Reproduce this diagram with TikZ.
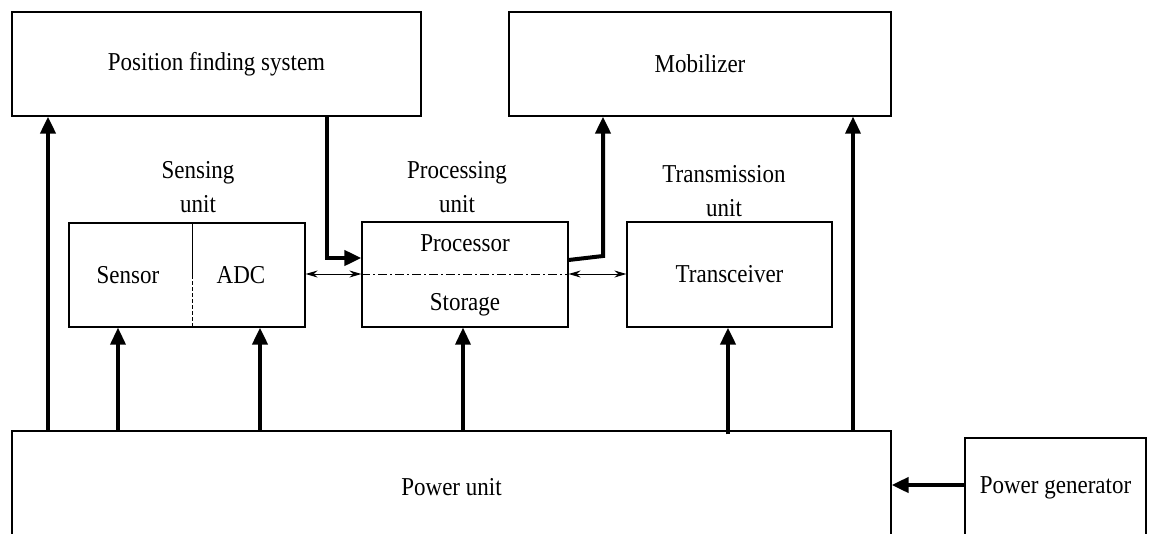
\documentclass[tikz,border=0pt]{standalone}
\usepackage{fontspec}
\setmainfont{Liberation Serif}
\usetikzlibrary{arrows.meta}
% text set slightly taller than wide
\newcommand{\tall}[1]{\scalebox{1}[1.12]{#1}}
\tikzset{
  box/.style={draw, line width=1.2pt, inner sep=0pt, font=\fontsize{23}{28}\selectfont},
  txt/.style={inner sep=0pt, font=\fontsize{23}{28}\selectfont},
  unitlabel/.style={inner sep=0pt, align=center, font=\fontsize{23}{34}\selectfont},
  power/.style={line width=4pt, -{Triangle[length=17pt,width=15pt]}},
  powerthin/.style={line width=3.4pt, -{Triangle[length=17pt,width=15pt]}},
  link/.style={line width=1pt, {Stealth[length=12pt,width=7pt]}-{Stealth[length=12pt,width=7pt]}}
}
\begin{document}
\begin{tikzpicture}[x=1pt,y=-1pt]
\useasboundingbox (0,0) rectangle (1153,533);
\clip (0,0) rectangle (1153,533);

% top row
\node[box, minimum width=409pt, minimum height=104pt] (pfs) at (216.5,64) {\tall{Position finding system}};
\node[box, minimum width=382pt, minimum height=104pt] (mob) at (700,64) {\tall{Mobilizer}};

% middle row: sensing, processing, transmission
\node[box, minimum width=236pt, minimum height=104pt] (sens) at (187,275) {};
\draw[line width=1pt] (192,223) -- (192,275);
\draw[line width=1pt, dash pattern=on 4pt off 2pt] (192,275) -- (192,327);
\node[txt] (sensor) at (128,275) {\tall{Sensor}};
\node[txt] (adc) at (241,275) {\tall{ADC}};

\node[box, minimum width=206pt, minimum height=105pt] (proc) at (465,274.5) {};
\draw[line width=0.8pt, dash pattern=on 9pt off 3pt on 2pt off 3pt] (proc.west) -- (proc.east);
\node[txt] (cpu) at (465,243) {\tall{Processor}};
\node[txt] (mem) at (465,305) {\tall{Storage}};

\node[box, minimum width=205pt, minimum height=105pt] (trx) at (729.5,274.5) {\tall{Transceiver}};

\node[unitlabel] (senslbl) at (198,187) {\tall{Sensing}\\\tall{unit}};
\node[unitlabel] (proclbl) at (457,187) {\tall{Processing}\\\tall{unit}};
\node[unitlabel] (trxlbl) at (724,191) {\tall{Transmission}\\\tall{unit}};

% bottom row
\node[box, minimum width=879pt, minimum height=112pt] (pwr) at (451.5,487) {\tall{Power unit}};
\node[box, minimum width=181pt, minimum height=100pt] (gen) at (1055.5,488) {\tall{Power generator}};

% power distribution
\draw[power] (pwr.north -| 48,0) -- (pfs.south -| 48,0);
\draw[powerthin] (pwr.north -| 118,0) -- (sens.south -| 118,0);
\draw[power] (pwr.north -| 260,0) -- (sens.south -| 260,0);
\draw[powerthin] (pwr.north -| 463,0) -- (proc.south -| 463,0);
\draw[power] ([yshift=-4pt]pwr.north -| 728,0) -- (trx.south -| 728,0);
\draw[powerthin] (pwr.north -| 853,0) -- (mob.south -| 853,0);
\draw[power] (gen.west |- 0,485) -- (pwr.east |- 0,485);

% data paths
\draw[power] (pfs.south -| 327,0) -- (327,258) -- (proc.west |- 0,258);
\draw[power] (proc.east |- 0,260) -- (603,256) -- (mob.south -| 603,0);
\draw[link] (sens.east |- 0,274) -- (proc.west |- 0,274);
\draw[link] (proc.east |- 0,274) -- (trx.west |- 0,274);
\end{tikzpicture}
\end{document}
